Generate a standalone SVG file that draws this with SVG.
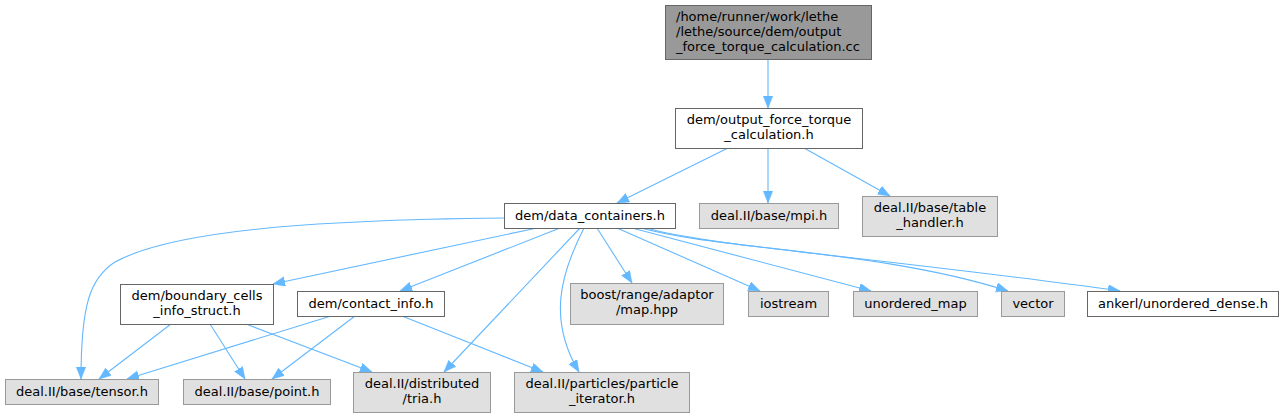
<svg xmlns="http://www.w3.org/2000/svg" width="1284" height="417" viewBox="0 0 1284 417">
<style>
text{font-family:"DejaVu Sans","Liberation Sans",sans-serif;font-size:13px;fill:#000}
.c{text-anchor:middle}
.top{fill:#999999;stroke:#666666}
.w{fill:#ffffff;stroke:#666666}
.g{fill:#e0e0e0;stroke:#999999}
.e{fill:none;stroke:#63b8ff;stroke-width:1.1}
</style>
<defs>
<marker id="a" markerUnits="userSpaceOnUse" markerWidth="13" markerHeight="11" refX="12" refY="4.75" orient="auto">
<path d="M0,0 L12,4.75 L0,9.5 z" fill="#63b8ff" stroke="#63b8ff" stroke-width="0.5"/>
</marker>
</defs>
<g id="edges">
<path class="e" marker-end="url(#a)" d="M768,59 L768,108"/>
<path class="e" marker-end="url(#a)" d="M728,148 L617,203"/>
<path class="e" marker-end="url(#a)" d="M768,148 L768,203"/>
<path class="e" marker-end="url(#a)" d="M804,148 L890,196"/>
<path class="e" marker-end="url(#a)" d="M504,218 C300,220 170,232 115,262 C90,278 81,305 81,379"/>
<path class="e" marker-end="url(#a)" d="M537,228 L273,284"/>
<path class="e" marker-end="url(#a)" d="M560,228 L400,291"/>
<path class="e" marker-end="url(#a)" d="M580,228 L444,372"/>
<path class="e" marker-end="url(#a)" d="M584,228 C560,275 548,320 579,372"/>
<path class="e" marker-end="url(#a)" d="M597,228 L632,283"/>
<path class="e" marker-end="url(#a)" d="M617,228 L760,291"/>
<path class="e" marker-end="url(#a)" d="M632,228 L871,291"/>
<path class="e" marker-end="url(#a)" d="M641,228 C720,250 880,250 1008,291"/>
<path class="e" marker-end="url(#a)" d="M647,228 C700,245 900,260 1120,291"/>
<path class="e" marker-end="url(#a)" d="M171,324 L99,379"/>
<path class="e" marker-end="url(#a)" d="M210,324 L245,379"/>
<path class="e" marker-end="url(#a)" d="M246,324 L372,372"/>
<path class="e" marker-end="url(#a)" d="M331,316 L127,379"/>
<path class="e" marker-end="url(#a)" d="M355,316 L272,379"/>
<path class="e" marker-end="url(#a)" d="M402,316 L543,372"/>
</g>
<g id="n_top"><rect class="top" x="665.5" y="5.5" width="206" height="54"/>
<text x="676" y="21">/home/runner/work/lethe</text><text x="676" y="36">/lethe/source/dem/output</text><text x="676" y="51">_force_torque_calculation.cc</text></g>
<g id="n_oftc"><rect class="w" x="675.5" y="108.5" width="187" height="40"/>
<text class="c" x="769" y="123.5">dem/output_force_torque</text><text class="c" x="769" y="138.5">_calculation.h</text></g>
<g id="n_dc"><rect class="w" x="504.5" y="203.5" width="171" height="25"/>
<text class="c" x="590" y="220">dem/data_containers.h</text></g>
<g id="n_mpi"><rect class="g" x="699.5" y="203.5" width="139" height="25"/>
<text class="c" x="769" y="220">deal.II/base/mpi.h</text></g>
<g id="n_table"><rect class="g" x="862.5" y="196.5" width="135" height="40"/>
<text class="c" x="930" y="211.5">deal.II/base/table</text><text class="c" x="930" y="226.5">_handler.h</text></g>
<g id="n_bc"><rect class="w" x="120.5" y="284.5" width="153" height="40"/>
<text class="c" x="197" y="299.5">dem/boundary_cells</text><text class="c" x="197" y="314.5">_info_struct.h</text></g>
<g id="n_ci"><rect class="w" x="297.5" y="291.5" width="147" height="25"/>
<text class="c" x="371" y="308">dem/contact_info.h</text></g>
<g id="n_boost"><rect class="g" x="570.5" y="283.5" width="153" height="41"/>
<text class="c" x="647" y="299">boost/range/adaptor</text><text class="c" x="647" y="314">/map.hpp</text></g>
<g id="n_ios"><rect class="g" x="748.5" y="291.5" width="80" height="25"/>
<text class="c" x="788.5" y="308">iostream</text></g>
<g id="n_umap"><rect class="g" x="853.5" y="291.5" width="124" height="25"/>
<text class="c" x="915.5" y="308">unordered_map</text></g>
<g id="n_vec"><rect class="g" x="1001.5" y="291.5" width="63" height="25"/>
<text class="c" x="1033" y="308">vector</text></g>
<g id="n_ank"><rect class="w" x="1087.5" y="291.5" width="191" height="25"/>
<text class="c" x="1183" y="308">ankerl/unordered_dense.h</text></g>
<g id="n_tensor"><rect class="g" x="5.5" y="379.5" width="153" height="25"/>
<text class="c" x="82" y="396">deal.II/base/tensor.h</text></g>
<g id="n_point"><rect class="g" x="183.5" y="379.5" width="147" height="25"/>
<text class="c" x="257" y="396">deal.II/base/point.h</text></g>
<g id="n_tria"><rect class="g" x="353.5" y="372.5" width="137" height="40"/>
<text class="c" x="422" y="387.5">deal.II/distributed</text><text class="c" x="422" y="402.5">/tria.h</text></g>
<g id="n_pi"><rect class="g" x="514.5" y="372.5" width="175" height="40"/>
<text class="c" x="602" y="387.5">deal.II/particles/particle</text><text class="c" x="602" y="402.5">_iterator.h</text></g>
</svg>
